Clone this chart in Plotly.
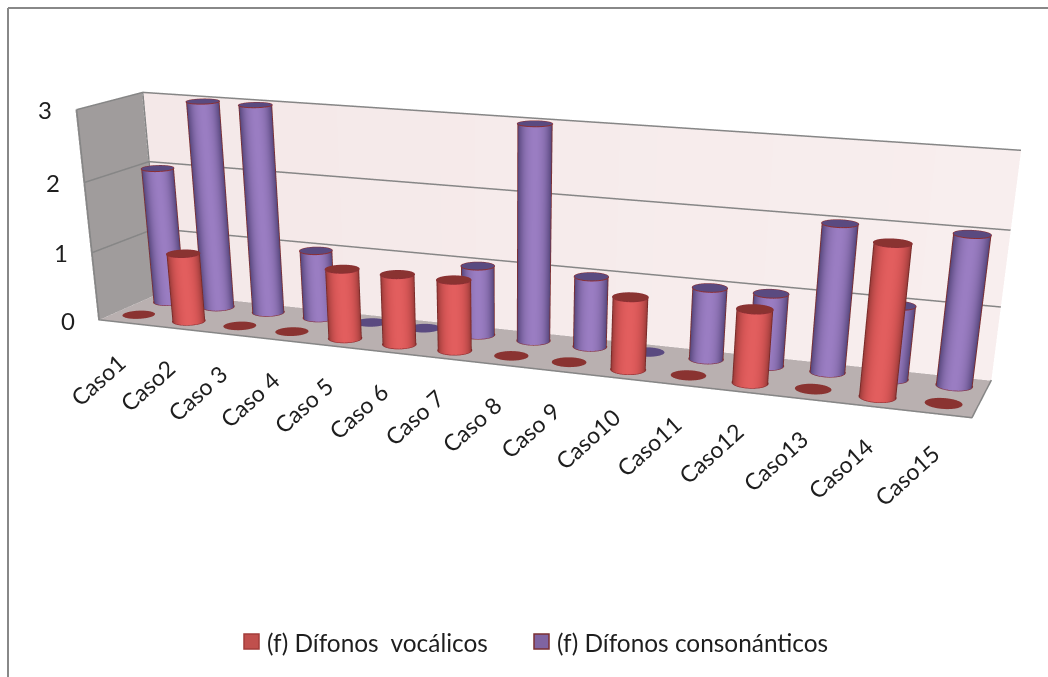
import numpy as np
import plotly.graph_objects as go

categories = ["Caso1", "Caso2", "Caso 3", "Caso 4", "Caso 5", "Caso 6", "Caso 7", "Caso 8",
              "Caso 9", "Caso10", "Caso11", "Caso12", "Caso13", "Caso14", "Caso15"]
vocalicos = [0, 1, 0, 0, 1, 1, 1, 0, 0, 1, 0, 1, 0, 2, 0]
consonanticos = [2, 3, 3, 1, 0, 0, 1, 3, 1, 0, 1, 1, 2, 1, 2]
value_ticks = [0, 1, 2, 3]

# The scene is taller than the visible page: a long lens flattens the perspective,
# and the camera centre lifts the box into the top of the figure.
PAGE_W, FIG_H = 1048, 1490
EYE = (1.3863, -3.6632, 0.8614)
CENTER = (0.8164, -2.1485, 0.0)
UP = (-0.0047, 0.0, 1.0)
BOX_X, BOX_Y, BOX_Z = 2.0, 0.2760, 0.4659

N_CAT = len(categories)
RADIUS = 0.28          # cylinder radius, in category widths
ROW = {"v": 0.25, "c": 0.75}
FLAT = dict(ambient=1, diffuse=0, specular=0, roughness=1, fresnel=0)
TEXT = "#1e1e1e"
GRID = "#868686"

theta = np.linspace(0, 2 * np.pi, 97)
radius_y = RADIUS * (BOX_X / N_CAT) / BOX_Y

# Rim band first, then dark edge to bright centre of each cylinder's side.
SIDE_SCALE = {
    "c": [[0, "#7b2f33"], [.30, "#7b2f33"], [.34, "#54467a"], [.65, "#725c98"], [.9, "#8f74b6"], [1, "#9a7dc2"]],
    "v": [[0, "#7a2a28"], [.30, "#7a2a28"], [.34, "#9a3b39"], [.65, "#bd4a49"], [.9, "#d95858"], [1, "#e25e5e"]],
}
CAP_COLOR = {"c": "#5a4a80", "v": "#8a3331"}

fig = go.Figure()


def add_cap(cx, cy, z, color):
    xs = np.r_[cx, cx + RADIUS * np.cos(theta[:-1])]
    ys = np.r_[cy, cy + radius_y * np.sin(theta[:-1])]
    n = len(xs) - 1
    fig.add_trace(go.Mesh3d(x=xs, y=ys, z=np.full(n + 1, z), i=[0] * n, j=list(range(1, n + 1)),
                            k=[*range(2, n + 1), 1], color=color, lighting=FLAT, hoverinfo="skip"))


rim_x, rim_y, rim_z = [], [], []
for key, values in (("v", vocalicos), ("c", consonanticos)):
    for i, v in enumerate(values):
        cx, cy = i + 0.5, ROW[key]
        if v > 0:
            xs = cx + RADIUS * np.cos(theta)
            ys = cy + radius_y * np.sin(theta)
            # Side shading follows how squarely each facet faces the camera.
            dx = EYE[0] - BOX_X * (cx / N_CAT - 0.5)
            dy = EYE[1] - BOX_Y * (cy - 0.5)
            dist = np.hypot(dx, dy)
            facing = np.clip(np.cos(theta) * dx / dist + np.sin(theta) * dy / dist, 0, 1)
            fig.add_trace(go.Surface(x=np.vstack([xs, xs]), y=np.vstack([ys, ys]),
                                     z=np.vstack([xs * 0, xs * 0 + v]),
                                     surfacecolor=np.vstack([facing, facing]), cmin=0, cmax=1,
                                     colorscale=SIDE_SCALE[key], showscale=False,
                                     lighting=FLAT, hoverinfo="skip"))
            rim_x += [*xs, None] * 2
            rim_y += [*ys, None] * 2
            rim_z += [*(xs * 0 + 0.01), None, *(xs * 0 + v), None]
        # A zero value is only a flat disc lying on the floor.
        add_cap(cx, cy, max(v, 0.02), CAP_COLOR[key])

fig.add_trace(go.Scatter3d(x=rim_x, y=rim_y, z=rim_z, mode="lines",
                           line=dict(color="#8b2f33", width=2), hoverinfo="skip"))

# Back wall, floor and side wall of the box.
top = value_ticks[-1]
fig.add_trace(go.Mesh3d(x=[0, N_CAT, N_CAT, 0], y=[1, 1, 1, 1], z=[0, 0, top, top], i=[0, 0], j=[1, 2], k=[2, 3],
                        vertexcolor=["#f4e8e8", "#f8eeee", "#f8eeee", "#f4e8e8"], lighting=FLAT, hoverinfo="skip"))
fig.add_trace(go.Mesh3d(x=[0, N_CAT, N_CAT, 0], y=[0, 0, 1, 1], z=[0, 0, 0, 0], i=[0, 0], j=[1, 2], k=[2, 3],
                        color="#b9b0b0", lighting=FLAT, hoverinfo="skip"))
fig.add_trace(go.Mesh3d(x=[0, 0, 0, 0], y=[0, 1, 1, 0], z=[0, 0, top, top], i=[0, 0], j=[1, 2], k=[2, 3],
                        color="#a09c9c", lighting=FLAT, hoverinfo="skip"))

# Gridlines and box edges sit just in front of the walls to avoid depth fighting.
grid_x, grid_y, grid_z = [], [], []
for z in value_ticks[1:]:
    grid_x += [.02, .02, N_CAT, None]
    grid_y += [.003, .997, .997, None]
    grid_z += [z, z, z, None]
grid_x += [.02, N_CAT, N_CAT, None, .02, .02, None, .02, .02]
grid_y += [.003, .003, .997, None, .003, .003, None, .997, .997]
grid_z += [.01, .01, .01, None, 0, top, None, 0, top]
fig.add_trace(go.Scatter3d(x=grid_x, y=grid_y, z=grid_z, mode="lines",
                           line=dict(color=GRID, width=3), hoverinfo="skip"))

scene_labels = [dict(x=i + .5, y=0, z=0, text=c, textangle=-42, showarrow=False, xanchor="right", yanchor="top",
                     xshift=10, yshift=-22, font=dict(family="Lato", size=23, color=TEXT))
                for i, c in enumerate(categories)]
scene_labels += [dict(x=0, y=0, z=t, text=str(t), showarrow=False, xshift=-30,
                      font=dict(family="Lato", size=24, color=TEXT))
                 for t in value_ticks]


def px(x):
    return x / PAGE_W


def py(y):
    return 1 - y / FIG_H


shapes = [
    dict(type="line", xref="paper", yref="paper", x0=px(8), x1=px(1048), y0=py(8), y1=py(8),
         line=dict(color="#888888", width=2)),
    dict(type="line", xref="paper", yref="paper", x0=px(8), x1=px(8), y0=py(8), y1=py(677),
         line=dict(color="#888888", width=2)),
    dict(type="rect", xref="paper", yref="paper", x0=px(244), x1=px(259), y0=py(634), y1=py(649),
         fillcolor="#c0504d", line=dict(color="#a33d3a", width=1.5)),
    dict(type="rect", xref="paper", yref="paper", x0=px(534), x1=px(549), y0=py(634), y1=py(649),
         fillcolor="#8064a2", line=dict(color="#7b2f33", width=1.5)),
]
legend_labels = [
    dict(text="(f) Dífonos  vocálicos", x=px(265), y=py(642)),
    dict(text="(f) Dífonos consonánticos", x=px(555), y=py(642)),
]
for label in legend_labels:
    label.update(xref="paper", yref="paper", xanchor="left", showarrow=False,
                 font=dict(family="Lato", size=24.4, color=TEXT))

fig.update_layout(
    width=PAGE_W, height=FIG_H, margin=dict(l=0, r=0, t=0, b=0), showlegend=False,
    paper_bgcolor="white", shapes=shapes, annotations=legend_labels,
    scene=dict(
        dragmode="orbit", domain=dict(x=[0, 1], y=[0, 1]), aspectmode="manual",
        aspectratio=dict(x=BOX_X, y=BOX_Y, z=BOX_Z), annotations=scene_labels,
        xaxis=dict(range=[0, N_CAT], visible=False),
        yaxis=dict(range=[0, 1], visible=False),
        zaxis=dict(range=[0, top], visible=False),
        camera=dict(eye=dict(x=EYE[0], y=EYE[1], z=EYE[2]),
                    center=dict(x=CENTER[0], y=CENTER[1], z=CENTER[2]),
                    up=dict(x=UP[0], y=UP[1], z=UP[2])),
    ),
)
fig.write_html("out.html", config=dict(displayModeBar=False))
